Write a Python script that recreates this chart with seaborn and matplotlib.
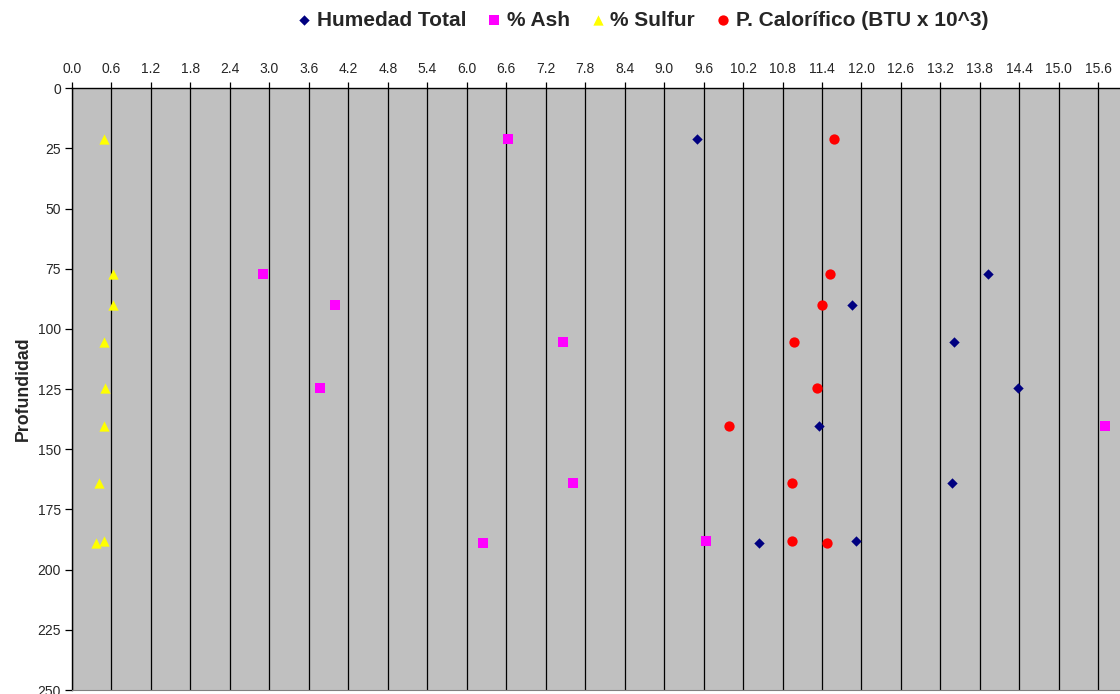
import seaborn as sns
import matplotlib.pyplot as plt
import pandas as pd

# depths (same for every series)
depth = [21, 77, 90, 105.5, 124.5, 140.5, 164, 188, 189]

humedad = [9.50, 13.92, 11.85, 13.40, 14.38, 11.35, 13.37, 11.92, 10.44]
ash = [6.62, 2.90, 4.00, 7.46, 3.77, 15.70, 7.62, 9.64, 6.25]
sulfur = [0.49, 0.62, 0.62, 0.48, 0.50, 0.49, 0.41, 0.49, 0.37]
calorifico = [11.59, 11.52, 11.40, 10.97, 11.32, 9.98, 10.94, 10.95, 11.47]

names = ['Humedad Total', '% Ash', '% Sulfur', 'P. Calorífico (BTU x 10^3)']
colors = ['#000080', '#FF00FF', '#FFFF00', '#FF0000']
markers = ['D', 's', '^', 'o']
sizes = [28, 50, 55, 55]

x_ticks = [round(0.6 * i, 1) for i in range(27)]
y_ticks = list(range(0, 251, 25))

frames = []
for name, vals in zip(names, [humedad, ash, sulfur, calorifico]):
    frames.append(pd.DataFrame({'valor': vals, 'Profundidad': depth, 'serie': name}))
df = pd.concat(frames, ignore_index=True)

sns.set_style('white')
plt.rcParams['font.family'] = ['Liberation Sans', 'DejaVu Sans']

fig = plt.figure(figsize=(11.2, 6.94), dpi=100)
ax = fig.add_axes([72 / 1120, 4 / 694, 1 - 72 / 1120, (690 - 88.3) / 694])
ax.set_facecolor('#C0C0C0')

for name, col, mk, sz in zip(names, colors, markers, sizes):
    sns.scatterplot(data=df[df['serie'] == name], x='valor', y='Profundidad',
                    color=col, marker=mk, s=sz, linewidth=0, label=name, ax=ax,
                    zorder=3)

for xt in x_ticks:
    ax.axvline(xt, color='black', lw=0.9, zorder=1)

ax.set_xlim(0, 15.93)
ax.set_ylim(250, 0)
ax.xaxis.tick_top()
ax.set_xticks(x_ticks)
ax.set_xticklabels([f'{v:.1f}' for v in x_ticks], fontsize=10)
ax.set_yticks(y_ticks)
ax.set_yticklabels([str(v) for v in y_ticks], fontsize=10)
ax.tick_params(axis='x', top=True, direction='out', length=4, width=0.9, pad=5, color='black')
ax.tick_params(axis='y', left=True, direction='out', length=5, width=0.9, pad=3, color='black')
ax.set_xlabel('')
ax.set_ylabel('Profundidad', fontsize=12.8, fontweight='bold', labelpad=4)

for side in ['top', 'left']:
    ax.spines[side].set_color('black')
    ax.spines[side].set_linewidth(1.0)
ax.spines['right'].set_visible(False)
ax.spines['bottom'].set_color('#808080')

sns.move_legend(ax, 'center', bbox_to_anchor=(0.543, 1.113), ncol=4, frameon=False,
                title=None, handletextpad=0.1, columnspacing=0.85, handlelength=1.0,
                prop={'size': 15, 'weight': 'bold'})

fig.savefig('out.png', dpi=100)
